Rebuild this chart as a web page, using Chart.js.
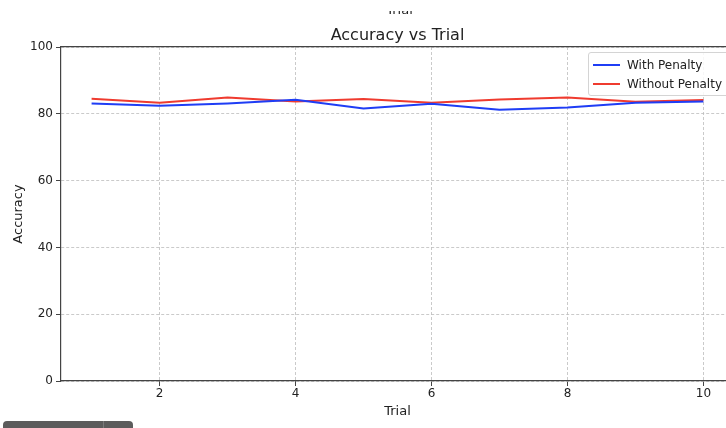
<!DOCTYPE html>
<html>
<head>
<meta charset="utf-8">
<script src="https://cdn.jsdelivr.net/npm/chart.js@4/dist/chart.umd.min.js"></script>
<style>
  html, body { margin: 0; padding: 0; background: #fff; overflow: hidden; width: 726px; height: 428px; }
  #wrap { position: absolute; left: 0; top: 0; width: 760px; height: 428px; }
  #legend {
    position: absolute; left: 588px; top: 52px; width: 150px; height: 42px;
    border: 1px solid #d4d4d4; border-radius: 3px; background: rgba(255,255,255,0.85);
    font-family: "DejaVu Sans", sans-serif; font-size: 12px; color: #222;
  }
  .leg-item { position: absolute; left: 0; height: 16px; width: 150px; }
  .leg-line { position: absolute; left: 4px; top: 7px; width: 27px; height: 2px; }
  .leg-text { position: absolute; left: 38px; top: 0; line-height: 16px; white-space: nowrap; }
  #dock { position: absolute; left: 3px; top: 421px; width: 130px; height: 10px; background: #5c5c5c; border-radius: 4px 4px 0 0; }
  #dock div { position: absolute; left: 100px; top: 0; width: 1px; height: 10px; background: #7a7a7a; }
</style>
</head>
<body>
<div id="wrap"><canvas id="chart"></canvas></div>
<div id="legend"></div>
<div id="dock"><div></div></div>
<script>
  // データ
  var trials = [1, 2, 3, 4, 5, 6, 7, 8, 9, 10];
  var withPenalty = [83.1, 82.4, 83.1, 84.2, 81.6, 83.0, 81.2, 81.9, 83.3, 83.7];
  var withoutPenalty = [84.5, 83.3, 84.9, 83.7, 84.4, 83.3, 84.3, 84.9, 83.6, 84.1];
  var xTicks = [2, 4, 6, 8, 10];
  var yTicks = [0, 20, 40, 60, 80, 100];

  var seriesNames = ['With Penalty', 'Without Penalty'];
  var seriesColors = ['#1f3df5', '#ef3b2f'];

  var FONT = '"DejaVu Sans", sans-serif';
  var SPINE = '#444444';
  var GRID = '#bdbdbd';

  /** 上部に切れて見えるラベル */
  var topFragment = {
    id: 'topFragment',
    afterDraw: function(c) {
      var ctx = c.ctx;
      var a = c.chartArea;
      ctx.save();
      ctx.beginPath();
      ctx.rect(0, 11, c.width, 10);
      ctx.clip();
      ctx.fillStyle = '#222';
      ctx.font = '13px ' + FONT;
      ctx.textAlign = 'center';
      ctx.textBaseline = 'alphabetic';
      ctx.fillText('Trial', (a.left + a.right) / 2 + 2, 13.5);
      ctx.restore();
    }
  };

  function gridOpts() {
    return {
      color: GRID, lineWidth: 0.8,
      tickLength: 5, tickColor: SPINE, tickWidth: 1, tickBorderDash: []
    };
  }

  var chart = new Chart(document.getElementById('chart'), {
    type: 'line',
    data: {
      labels: trials,
      datasets: [
        { label: seriesNames[0], data: withPenalty, borderColor: seriesColors[0], backgroundColor: seriesColors[0],
          borderWidth: 2, pointRadius: 0, tension: 0 },
        { label: seriesNames[1], data: withoutPenalty, borderColor: seriesColors[1], backgroundColor: seriesColors[1],
          borderWidth: 2, pointRadius: 0, tension: 0 }
      ]
    },
    options: {
      responsive: true,
      maintainAspectRatio: false,
      animation: false,
      layout: { padding: { left: 0, right: 26, top: 0, bottom: 0 } },
      plugins: { legend: { display: false }, tooltip: { enabled: false } },
      scales: {
        x: {
          type: 'linear', position: 'bottom', min: 0.55, max: 10.45,
          afterFit: function(s) { s.height = 47; },
          afterBuildTicks: function(s) { s.ticks = xTicks.map(function(v) { return { value: v }; }); },
          grid: gridOpts(),
          border: { color: SPINE, width: 1.2, dash: [3, 2] },
          ticks: { color: '#222', padding: 1, font: { family: FONT, size: 12 } },
          title: { display: true, text: 'Trial', color: '#222', font: { family: FONT, size: 13 }, padding: { top: 0, bottom: 9 } }
        },
        x2: {
          type: 'linear', position: 'top', min: 0.55, max: 10.45,
          afterFit: function(s) { s.height = 47; },
          grid: { display: false },
          border: { color: SPINE, width: 1.2 },
          ticks: { display: false },
          title: { display: true, text: 'Accuracy vs Trial', color: '#222', font: { family: FONT, size: 16 }, padding: { top: 26, bottom: 0 } }
        },
        y: {
          min: 0, max: 100,
          afterFit: function(s) { s.width = 61; },
          afterBuildTicks: function(s) { s.ticks = yTicks.map(function(v) { return { value: v }; }); },
          grid: gridOpts(),
          border: { color: SPINE, width: 1.2, dash: [3, 2] },
          ticks: { color: '#222', padding: 3, font: { family: FONT, size: 12 } },
          title: { display: true, text: 'Accuracy', color: '#222', font: { family: FONT, size: 13 }, padding: { top: 11, bottom: 0 } }
        }
      }
    },
    plugins: [topFragment]
  });

  // 凡例
  var legend = document.getElementById('legend');
  legend.innerHTML = seriesNames.map(function(name, i) {
    return '<div class="leg-item" style="top:' + (4 + i * 19) + 'px">' +
      '<div class="leg-line" style="background:' + seriesColors[i] + '"></div>' +
      '<div class="leg-text">' + name + '</div></div>';
  }).join('');
</script>
</body>
</html>
